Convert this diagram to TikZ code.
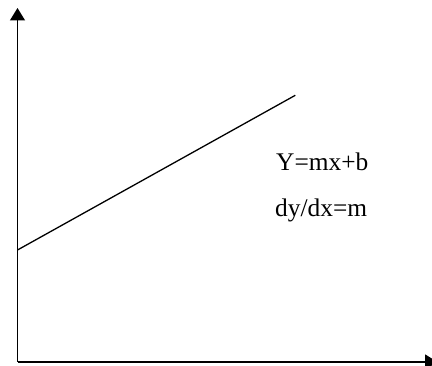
\documentclass[tikz,border=0pt]{standalone}
\usepackage{fontspec}
\setmainfont{Liberation Serif}
\usetikzlibrary{arrows.meta}
\begin{document}
\begin{tikzpicture}[x=1pt,y=1pt,
  axis/.style={line width=1.5pt,-{Triangle[length=12.5pt,width=15pt]}},
  graph/.style={line width=1.3pt},
  lbl/.style={anchor=base west,inner sep=0pt,font=\fontsize{25.4}{30}\selectfont}]
\useasboundingbox (0,0) rectangle (432,366);
\clip (0,0) rectangle (432,366);
\coordinate (O) at (17.5,4);
\coordinate (ytop) at (17.5,358);
\coordinate (xend) at (437.5,4);
\coordinate (p0) at (17.5,116);
\coordinate (p1) at (295.3,270.7);
\draw[axis] (O) -- (ytop);
\draw[axis] (O) -- (xend);
\draw[graph] (p0) -- (p1);
\node[lbl] (eq) at (276,195) {Y=mx+b};
\node[lbl] (deriv) at (275,149) {dy/dx=m};
\end{tikzpicture}
\end{document}
